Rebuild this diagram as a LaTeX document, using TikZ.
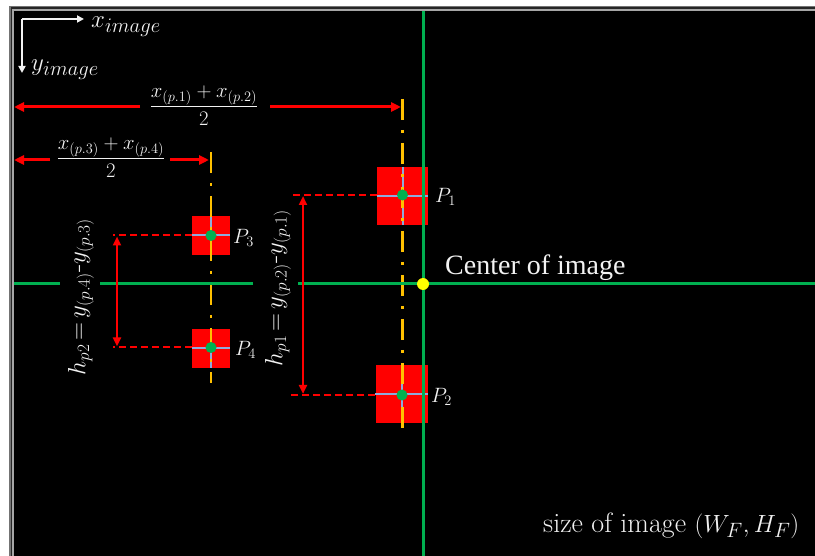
\documentclass[tikz,border=0pt]{standalone}
\usepackage{fontspec}
\newfontfamily\timesf{Liberation Serif}
\usetikzlibrary{arrows.meta}
\definecolor{gr}{RGB}{0,176,80}
\definecolor{og}{RGB}{255,192,0}
\definecolor{cr}{RGB}{143,170,220}
\definecolor{yl}{RGB}{255,255,0}
\definecolor{tw}{RGB}{242,242,242}
\tikzset{
  redarrow/.style={draw=red,line width=3pt,-{Triangle[length=10pt,width=9pt]}},
  reddbl/.style={draw=red,line width=2.5pt,{Triangle[length=9pt,width=8pt]}-{Triangle[length=9pt,width=8pt]}},
  reddash/.style={draw=red,line width=2pt,dash pattern=on 7pt off 4pt},
  orangedd/.style={draw=og,line width=2.5pt,dash pattern=on 21pt off 10pt on 3pt off 10pt},
  greenline/.style={draw=gr,line width=3pt},
  pbox/.style={fill=red,draw=none,inner sep=0pt},
  crossline/.style={draw=cr,line width=2pt},
  gdot/.style={circle,fill=gr,draw=none,minimum size=11pt,inner sep=0pt},
  ydot/.style={circle,fill=yl,draw=none,minimum size=12pt,inner sep=0pt},
  lbl/.style={text=tw,inner sep=0pt},
  whitearrow/.style={draw=tw,line width=2pt,-{Triangle[length=7pt,width=7pt]}},
}
\begin{document}
\begin{tikzpicture}[x=1pt,y=-1pt]
\useasboundingbox (0,0) rectangle (815,556);
% frame
\fill[white] (0,0) rectangle (815,556);
\fill[black!55] (9,6) rectangle (815,556);
\fill[black!85] (10.5,7.5) rectangle (815,556);
\fill[black!35] (12,9.5) rectangle (815,556);
\fill[black] (13.5,11) rectangle (815,556);

% image axes
\coordinate (o) at (22,19);
\coordinate (ax) at (84,19);
\coordinate (ay) at (22,73);
\draw[whitearrow] (o) -- (ax);
\draw[whitearrow] (o) -- (ay);
\node[lbl,anchor=west,font=\fontsize{29}{32}\selectfont] (xl) at (91,27) {$x_{image}$};
\node[lbl,anchor=west,font=\fontsize{29}{32}\selectfont] (yl) at (31,70) {$y_{image}$};

% boxes
\node[pbox,minimum width=51pt,minimum height=58pt] (b1) at (402.5,196) {};
\node[pbox,minimum width=52pt,minimum height=58pt] (b2) at (401.5,394) {};
\node[pbox,minimum width=38pt,minimum height=39pt] (b3) at (211,235.5) {};
\node[pbox,minimum width=38pt,minimum height=39pt] (b4) at (211,348.5) {};

% cross lines
\foreach \b in {b1,b2,b3,b4}{
  \draw[crossline] (\b.west) -- (\b.east);
  \draw[crossline] (\b.north) -- (\b.south);
}

% orange dash-dot verticals
\coordinate (oa1) at (402.5,99);
\coordinate (oa2) at (402.5,437);
\coordinate (ob1) at (211,152);
\coordinate (ob2) at (211,383);
\draw[orangedd] (oa1) -- (oa2);
\draw[orangedd] (ob1) -- (ob2);

% green axes
\coordinate (gv1) at (423,11);
\coordinate (gv2) at (423,556);
\draw[greenline] (gv1) -- (gv2);
\coordinate (gh1) at (13.5,284);
\coordinate (gh2) at (60,284);
\coordinate (gh3) at (100,284);
\coordinate (gh4) at (253,284);
\coordinate (gh5) at (298,284);
\coordinate (gh6) at (815,284);
\draw[greenline] (gh1) -- (gh2);
\draw[greenline] (gh3) -- (gh4);
\draw[greenline] (gh5) -- (gh6);

% centre dots
\node[gdot] (d1) at (402.5,195) {};
\node[gdot] (d2) at (402,395) {};
\node[gdot] (d3) at (211,235.5) {};
\node[gdot] (d4) at (211,347.5) {};
\node[ydot] (c) at (423,284) {};

% labels of points
\node[lbl,anchor=west,font=\fontsize{22}{24}\selectfont] (p1) at (435,197) {$P_1$};
\node[lbl,anchor=west,font=\fontsize{22}{24}\selectfont] (p2) at (431,397) {$P_2$};
\node[lbl,anchor=west,font=\fontsize{22}{24}\selectfont] (p3) at (233,238) {$P_3$};
\node[lbl,anchor=west,font=\fontsize{22}{24}\selectfont] (p4) at (235,350) {$P_4$};

% top fractions and arrows
\node[lbl,font=\fontsize{21}{24}\selectfont] (f1) at (204,106) {$\displaystyle\frac{x_{(p.1)}+x_{(p.2)}}{2}$};
\node[lbl,font=\fontsize{21}{24}\selectfont] (f2) at (111,158) {$\displaystyle\frac{x_{(p.3)}+x_{(p.4)}}{2}$};
\coordinate (r1a) at (140,107);
\coordinate (r1b) at (14,107);
\coordinate (r1c) at (270,107);
\coordinate (r1d) at (401,107);
\draw[redarrow] (r1a) -- (r1b);
\draw[redarrow] (r1c) -- (r1d);
\coordinate (r2a) at (50,160);
\coordinate (r2b) at (14,160);
\coordinate (r2c) at (170,160);
\coordinate (r2d) at (209,160);
\draw[redarrow] (r2a) -- (r2b);
\draw[redarrow] (r2c) -- (r2d);

% height dimension lines
\coordinate (e1) at (291,195);
\coordinate (e2) at (290,395);
\draw[reddash] (b1.west |- d1) -- (e1);
\draw[reddash] (b2.west |- d2) -- (e2);
\coordinate (v1a) at (303,196);
\coordinate (v1b) at (303,394);
\draw[reddbl] (v1a) -- (v1b);
\coordinate (e3) at (113,235.5);
\coordinate (e4) at (113,347.5);
\draw[reddash] (b3.west) -- (e3);
\draw[reddash] (b4.west |- d4) -- (e4);
\coordinate (v2a) at (117,236.5);
\coordinate (v2b) at (117,346.5);
\draw[reddbl] (v2a) -- (v2b);

\node[lbl,rotate=90,font=\fontsize{27}{30}\selectfont] (h2) at (81,297) {$h_{p2}\,{=}\,y_{(p.4)}\mbox{-}y_{(p.3)}$};
\node[lbl,rotate=90,font=\fontsize{27}{30}\selectfont] (h1) at (278,288) {$h_{p1}\,{=}\,y_{(p.2)}\mbox{-}y_{(p.1)}$};

% texts
\node[lbl,anchor=base west,font=\timesf\fontsize{28}{32}\selectfont] (ci) at (445,275) {Center of image};
\node[lbl,anchor=base west,font=\fontsize{28}{32}\selectfont] (si) at (543,532) {size of image $(W_F,H_F)$};
\end{tikzpicture}
\end{document}
